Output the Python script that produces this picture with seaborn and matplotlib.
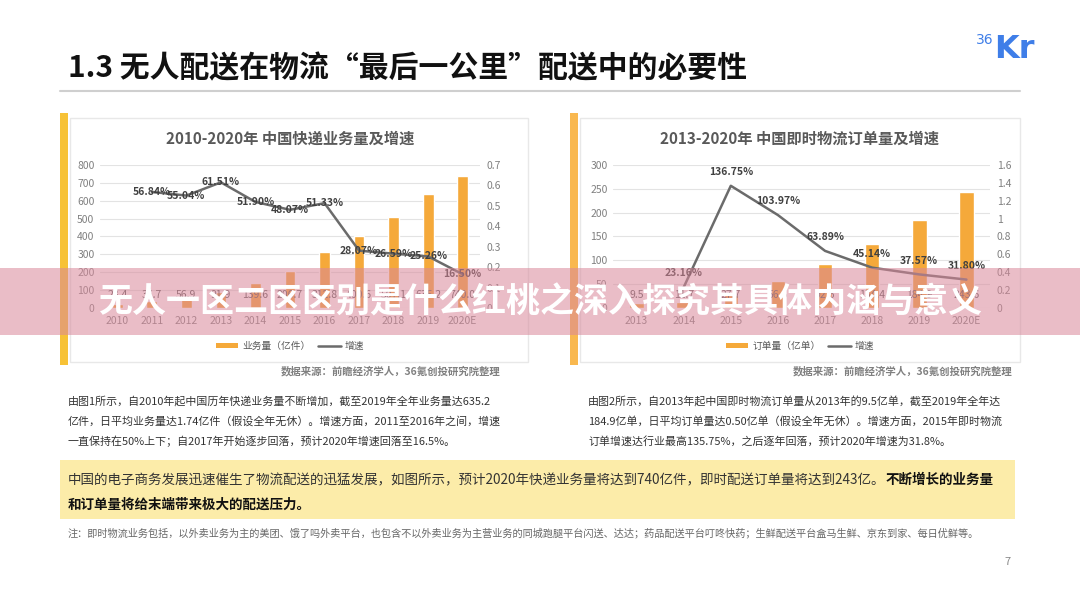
import numpy as np
import pandas as pd
import matplotlib
matplotlib.use("Agg")
import matplotlib.pyplot as plt
from matplotlib.patches import Rectangle, Patch
from matplotlib.lines import Line2D
import seaborn as sns

# ---------------- data ----------------
years1 = ['2010', '2011', '2012', '2013', '2014', '2015', '2016', '2017', '2018', '2019', '2020E']
volume1 = [23.4, 36.7, 56.9, 91.9, 139.6, 206.7, 312.8, 400.6, 507.1, 635.2, 740.0]
growth1 = [np.nan, 0.5684, 0.5504, 0.6151, 0.5190, 0.4807, 0.5133, 0.2807, 0.2659, 0.2526, 0.1650]

years2 = ['2013', '2014', '2015', '2016', '2017', '2018', '2019', '2020E']
volume2 = [9.5, 11.7, 27.7, 56.5, 92.6, 134.4, 184.9, 243.6]
growth2 = [np.nan, 0.2316, 1.3675, 1.0397, 0.6389, 0.4514, 0.3757, 0.3180]

title_main = '1.3 无人配送在物流“最后一公里”配送中的必要性'
chart1_title = '2010-2020年 中国快递业务量及增速'
chart2_title = '2013-2020年 中国即时物流订单量及增速'
legend1 = ['业务量（亿件）', '增速']
legend2 = ['订单量（亿单）', '增速']
source_text = '数据来源：前瞻经济学人，36氪创投研究院整理'
para1 = ['由图1所示，自2010年起中国历年快递业务量不断增加，截至2019年全年业务量达635.2',
         '亿件，日平均业务量达1.74亿件（假设全年无休）。增速方面，2011至2016年之间，增速',
         '一直保持在50%上下；自2017年开始逐步回落，预计2020年增速回落至16.5%。']
para2 = ['由图2所示，自2013年起中国即时物流订单量从2013年的9.5亿单，截至2019年全年达',
         '184.9亿单，日平均订单量达0.50亿单（假设全年无休）。增速方面，2015年即时物流',
         '订单增速达行业最高135.75%，之后逐年回落，预计2020年增速为31.8%。']
hl_line1_regular = '中国的电子商务发展迅速催生了物流配送的迅猛发展，如图所示，预计2020年快递业务量将达到740亿件，即时配送订单量将达到243亿。'
hl_line1_bold = '不断增长的业务量'
hl_line2_bold = '和订单量将给末端带来极大的配送压力。'
note_text = '注：即时物流业务包括，以外卖业务为主的美团、饿了吗外卖平台，也包含不以外卖业务为主营业务的同城跑腿平台闪送、达达；药品配送平台叮咚快药；生鲜配送平台盒马生鲜、京东到家、每日优鲜等。'
banner_text = '无人一区二区区别是什么红桃之深入探究其具体内涵与意义'
page_no = '7'

# ---------------- style ----------------
sns.set_theme(style='white')
plt.rcParams['font.family'] = ['Noto Sans CJK SC', 'DejaVu Sans']
plt.rcParams['axes.unicode_minus'] = False

W, H = 1080, 608
fig = plt.figure(figsize=(W / 100, H / 100), dpi=100)
fig.patch.set_facecolor('white')


def fx(x):
    return x / W


def fy(y):
    return 1 - y / H


BAR_C = '#F5A93A'
LINE_C = '#6b6b6b'
TICK_C = '#808080'

# header
fig.text(fx(68), fy(68), title_main, fontsize=21.5, fontweight='bold', color='#111111',
         ha='left', va='center')
fig.add_artist(Line2D([fx(60), fx(1020)], [fy(91), fy(91)], color='#cfcfcf', lw=1.5))
fig.text(fx(976), fy(40), '36', fontsize=10, color='#3F7EE8', ha='left', va='center',
         family='DejaVu Sans')
fig.text(fx(994), fy(50), 'Kr', fontsize=23, fontweight='bold', color='#3F7EE8',
         ha='left', va='center', family='DejaVu Sans')

# chart frames & accent bars
for (x0, x1, acc) in [(70, 528, '#F7C236'), (580, 1020, '#F9B84F')]:
    fig.add_artist(Rectangle((fx(x0), fy(362)), fx(x1) - fx(x0), fy(118) - fy(362),
                             fill=False, ec='#e8e8e8', lw=1))
    fig.add_artist(Rectangle((fx(x0 - 10), fy(365)), fx(8), fy(113) - fy(365),
                             color=acc, lw=0))


def draw_chart(rect, years, vol, gr, ymax, ystep, y2max, y2step, title, tcx, leg, label_off):
    ax = fig.add_axes(rect)
    df = pd.DataFrame({'year': years, 'volume': vol, 'growth': gr})
    df['pos'] = np.arange(len(df))
    sns.barplot(data=df, x='year', y='volume', color=BAR_C, saturation=1, width=0.31, ax=ax)
    n = len(years)
    ax.set_xlim(-0.5, n - 0.5)
    ax.set_ylim(0, ymax)
    ax.set_yticks(np.arange(0, ymax + 1, ystep))
    ax.yaxis.grid(True, color='#e3e3e3', lw=0.8)
    ax.set_axisbelow(True)
    ax.set_xlabel('')
    ax.set_ylabel('')
    for s in ax.spines.values():
        s.set_visible(False)
    ax.tick_params(axis='y', length=0, labelsize=7.5, labelcolor=TICK_C, pad=4)
    ax.tick_params(axis='x', length=0, labelsize=7.5, labelcolor=TICK_C, pad=6)
    ax.set_facecolor('none')
    for i, v in enumerate(vol):
        ax.text(i, 0.09, f'{v:.1f}', transform=ax.get_xaxis_transform(), ha='center',
                va='center', fontsize=7.5, color='#595959')

    ax2 = ax.twinx()
    dl = df.dropna(subset=['growth'])
    sns.lineplot(data=dl, x='pos', y='growth', color=LINE_C, lw=1.8, ax=ax2)
    ax2.set_ylim(0, y2max)
    ax2.set_yticks(np.arange(0, y2max + 1e-9, y2step))
    ax2.yaxis.set_major_formatter(matplotlib.ticker.FormatStrFormatter('%g'))
    ax2.set_xlim(-0.5, n - 0.5)
    ax2.set_xlabel('')
    ax2.set_ylabel('')
    ax2.grid(False)
    for s in ax2.spines.values():
        s.set_visible(False)
    ax2.tick_params(axis='y', length=0, labelsize=7.5, labelcolor=TICK_C, pad=5)
    for _, r in dl.iterrows():
        ax2.annotate(f'{r.growth * 100:.2f}%', (r.pos, r.growth), xytext=(0, label_off),
                     textcoords='offset points', ha='center', va='center', fontsize=7.5,
                     fontweight='bold', color='#404040')

    fig.text(fx(tcx), fy(139), title, fontsize=11, fontweight='bold', color='#595959',
             ha='center', va='center')
    handles = [Patch(color=BAR_C, lw=0), Line2D([0], [0], color=LINE_C, lw=1.8)]
    fig.legend(handles, leg, loc='center', bbox_to_anchor=(fx(tcx), fy(346)), ncol=2,
               frameon=False, fontsize=7, handlelength=2.3, handleheight=0.5,
               columnspacing=0.8, handletextpad=0.4, labelcolor='#595959')
    return ax


draw_chart([fx(100), fy(308), fx(380), fy(165) - fy(308)], years1, volume1, growth1,
           800, 100, 0.7, 0.1, chart1_title, 290, legend1, 0)
draw_chart([fx(613), fy(308), fx(377), fy(165) - fy(308)], years2, volume2, growth2,
           300, 50, 1.6, 0.2, chart2_title, 800, legend2, 10)

# sources
fig.text(fx(500), fy(371), source_text, fontsize=7.5, fontweight='bold', color='#808080',
         ha='right', va='center')
fig.text(fx(1012), fy(371), source_text, fontsize=7.5, fontweight='bold', color='#808080',
         ha='right', va='center')

# paragraphs
for i, line in enumerate(para1):
    fig.text(fx(68), fy(401 + 20 * i), line, fontsize=7.9, color='#333333', ha='left', va='center')
for i, line in enumerate(para2):
    fig.text(fx(588), fy(401 + 20 * i), line, fontsize=7.9, color='#333333', ha='left', va='center')

# highlight box
fig.add_artist(Rectangle((fx(60), fy(519)), fx(955), fy(460) - fy(519), color='#FCECA9', lw=0))
t1 = fig.text(fx(68), fy(480), hl_line1_regular, fontsize=9.75, color='#333333',
              ha='left', va='center')
renderer = fig.canvas.get_renderer()
bb = t1.get_window_extent(renderer=renderer)
fig.text(bb.x1 / W, fy(480), hl_line1_bold, fontsize=9.75, fontweight='bold', color='#111111',
         ha='left', va='center')
fig.text(fx(68), fy(505), hl_line2_bold, fontsize=9.75, fontweight='bold', color='#111111',
         ha='left', va='center')

fig.text(fx(68), fy(533), note_text, fontsize=7.3, color='#666666', ha='left', va='center')
fig.text(fx(1008), fy(562), page_no, fontsize=8, color='#888888', ha='center', va='center')

# overlay banner
fig.add_artist(Rectangle((0, fy(335)), 1, fy(268) - fy(335), color='#d9889a', alpha=0.55, lw=0))
fig.text(0.5, fy(302), banner_text, fontsize=24.5, fontweight='bold', color='white',
         ha='center', va='center')

fig.savefig('out.png', dpi=100, facecolor='white')
